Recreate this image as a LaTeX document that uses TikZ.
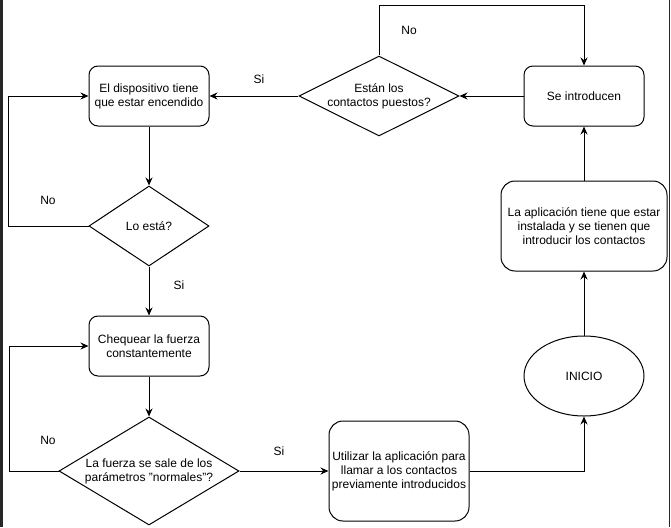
\documentclass[tikz,border=0pt]{standalone}
\usepackage{fontspec}
\setmainfont{Liberation Sans}
\usetikzlibrary{arrows.meta,shapes.geometric,positioning}

\begin{document}
\begin{tikzpicture}[x=1pt, y=-1pt,
    font=\fontsize{12}{14}\selectfont,
    box/.style={rectangle, rounded corners=9pt, draw=black, line width=1pt, align=center, minimum width=120pt, minimum height=60pt, inner sep=2pt},
    bigbox/.style={box, rounded corners=14pt},
    decision/.style={diamond, draw=black, line width=1pt, align=center, inner sep=0pt},
    startnode/.style={ellipse, draw=black, line width=1pt, minimum width=120pt, minimum height=80pt, inner sep=0pt},
    arrow/.style={-{Stealth[length=8pt, width=7pt]}, line width=1pt},
    lbl/.style={inner sep=0pt}
]
\useasboundingbox (0,0) rectangle (671,527);

% Screen edges
\fill[black!85] (0,0) rectangle (2.5,527);
\fill[black!85] (668.5,0) rectangle (669.5,527);

% Right column: start
\node[startnode] (inicio) at (584,376) {INICIO};
\node[bigbox, minimum width=166pt, minimum height=90pt] (app) at (584,226) {
    La aplicación tiene que estar\\
    instalada y se tienen que\\
    introducir los contactos
};
\node[box] (intro) at (584,96) {Se introducen};

% Top decision
\node[decision, minimum width=160pt, minimum height=80pt, aspect=2] (contactos) at (379,96) {
    Están los\\
    contactos puestos?
};

% Left column
\node[box] (encendido) at (149,96) {
    El dispositivo tiene\\
    que estar encendido
};
\node[decision, minimum width=120pt, minimum height=80pt, aspect=1.5] (loesta) at (149,226) {Lo está?};
\node[box] (chequear) at (149,346) {
    Chequear la fuerza\\
    constantemente
};
\node[decision, minimum width=180pt, minimum height=108pt, aspect=1.667] (fuerza) at (149,471) {
    La fuerza se sale de los\\
    parámetros "normales"?
};

% Call box
\node[bigbox, minimum width=140pt, minimum height=100pt] (llamar) at (399,471) {
    Utilizar la aplicación para\\
    llamar a los contactos\\
    previamente introducidos
};

% Arrows
\draw[arrow] (inicio) -- (app);
\draw[arrow] (app) -- (intro);
\draw[arrow] (intro) -- (contactos);
\draw[arrow] (contactos) -- (encendido);
\draw[arrow] (contactos.north) -- ++(0,-50) -| (intro.north);
\draw[arrow] (encendido) -- (loesta);
\draw[arrow] (loesta.west) -- ++(-80,0) |- (encendido.west);
\draw[arrow] (loesta) -- (chequear);
\draw[arrow] (chequear) -- (fuerza);
\draw[arrow] (fuerza.west) -- ++(-49,0) |- (chequear.west);
\draw[arrow] (fuerza) -- (llamar);
\draw[arrow] (llamar.east) -| (inicio.south);

% Labels
\node[lbl] (siA) at (259,79) {Si};
\node[lbl] (noA) at (409,30) {No};
\node[lbl] (noB) at (48,200) {No};
\node[lbl] (siB) at (179,285) {Si};
\node[lbl] (noC) at (48,440) {No};
\node[lbl] (siC) at (279,451) {Si};

\end{tikzpicture}
\end{document}
